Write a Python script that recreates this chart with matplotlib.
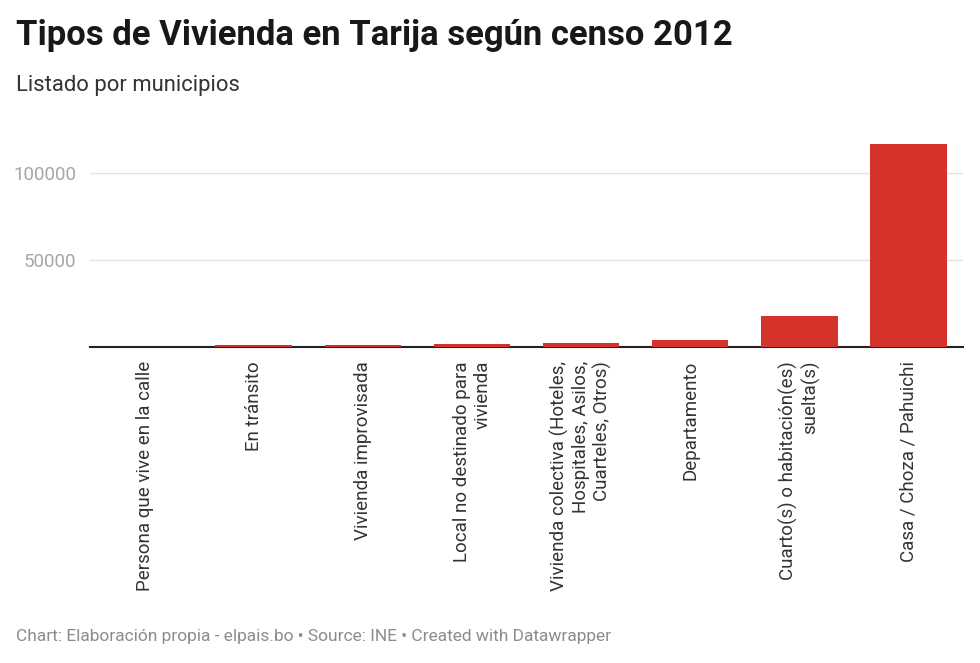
import matplotlib
matplotlib.use("Agg")
import matplotlib.pyplot as plt

categories = [
    "Persona que vive en la calle",
    "En tránsito",
    "Vivienda improvisada",
    "Local no destinado para\nvivienda",
    "Vivienda colectiva (Hoteles,\nHospitales, Asilos,\nCuarteles, Otros)",
    "Departamento",
    "Cuarto(s) o habitación(es)\nsuelta(s)",
    "Casa / Choza / Pahuichi",
]
values = [40, 1000, 1400, 1900, 2500, 4100, 17800, 116800]
yticks = [50000, 100000]
ytick_labels = ["50000", "100000"]

plt.rcParams['font.family'] = ['Roboto', 'DejaVu Sans']

W, H = 980, 663
fig = plt.figure(figsize=(W / 100, H / 100), dpi=100)
fig.patch.set_facecolor('white')

left, right, bottom_px, top_px = 90, 963, 347, 138
ax = fig.add_axes([left / W, 1 - bottom_px / H, (right - left) / W, (bottom_px - top_px) / H])

x = list(range(len(categories)))
ax.bar(x, values, width=0.7, color='#d5322b', zorder=5)
ax.set_xlim(-0.5, len(categories) - 0.5)
ax.set_ylim(0, 120000)

ax.set_yticks(yticks)
ax.set_yticklabels(ytick_labels, color='#a6a6a6', fontsize=13.5)
ax.tick_params(axis='y', length=0, pad=10)
ax.grid(axis='y', color='#e3e3e3', linewidth=1, zorder=0)
for s in ['top', 'right', 'left']:
    ax.spines[s].set_visible(False)
ax.spines['bottom'].set_color('#222222')
ax.spines['bottom'].set_linewidth(1.5)
ax.spines['bottom'].set_zorder(4)

ax.set_xticks(x)
ax.set_xticklabels(categories, rotation=90, fontsize=13.5, color='#333333',
                   ha='center', va='top', multialignment='right')
ax.tick_params(axis='x', length=0, pad=10)

fig.text(16 / W, 1 - 36 / H, "Tipos de Vivienda en Tarija según censo 2012",
         fontsize=24.9, fontweight='bold', color='#181818', va='center', ha='left')
fig.text(16 / W, 1 - 85 / H, "Listado por municipios",
         fontsize=15.8, color='#333333', va='center', ha='left')
fig.text(16 / W, 1 - 636 / H,
         "Chart: Elaboración propia - elpais.bo • Source: INE • Created with Datawrapper",
         fontsize=12.5, color='#8c8c8c', va='center', ha='left')

fig.savefig("out.png", dpi=100, facecolor='white')
